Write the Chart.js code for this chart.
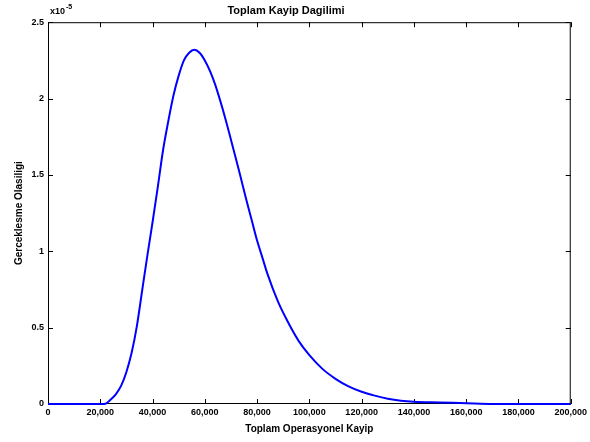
<!DOCTYPE html>
<html>
<head>
<meta charset="utf-8">
<script src="https://cdn.jsdelivr.net/npm/chart.js@4/dist/chart.umd.min.js"></script>
<style>
  html, body { margin: 0; padding: 0; background: #fff; }
  #wrap { width: 590px; height: 442px; }
</style>
</head>
<body>
<div id="wrap"><canvas id="loss-chart" width="590" height="442"></canvas></div>
<script>
// Toplam operasyonel kayip (x) ve gerceklesme olasiligi (y)
const lossValues = [0, 20000, 22000, 24000, 26000, 28000, 30000, 32000, 34000, 36000, 38000, 40000,
    42000, 44000, 46000, 48000, 50000, 52000, 54000, 56000, 58000, 60000, 62000, 64000, 66000,
    68000, 70000, 72000, 74000, 76000, 78000, 80000, 82000, 84000, 88000, 92000, 96000, 100000,
    105000, 110000, 115000, 120000, 125000, 130000, 135000, 140000, 150000, 160000, 170000, 200000];
const densityValues = [0, 0, 0.002e-5, 0.03e-5, 0.065e-5, 0.12e-5, 0.21e-5, 0.335e-5, 0.51e-5, 0.74e-5, 0.97e-5, 1.19e-5,
    1.42e-5, 1.66e-5, 1.85e-5, 2.02e-5, 2.15e-5, 2.25e-5, 2.30e-5, 2.32e-5, 2.30e-5, 2.25e-5, 2.18e-5, 2.09e-5, 1.98e-5,
    1.86e-5, 1.73e-5, 1.60e-5, 1.465e-5, 1.33e-5, 1.20e-5, 1.07e-5, 0.96e-5, 0.85e-5, 0.67e-5, 0.53e-5, 0.41e-5, 0.32e-5,
    0.23e-5, 0.165e-5, 0.115e-5, 0.08e-5, 0.055e-5, 0.035e-5, 0.022e-5, 0.015e-5, 0.01e-5, 0.005e-5, 0, 0];
const xTicks = [0, 20000, 40000, 60000, 80000, 100000, 120000, 140000, 160000, 180000, 200000];
const yTicks = [0, 0.5e-5, 1e-5, 1.5e-5, 2e-5, 2.5e-5];

const textFont = 'Arial, "Liberation Sans", sans-serif';

// box around the plot with inward ticks on all four sides, plus the x10^-5 note
// drawn under the curve so the blue line sits on top of the bottom axis
const matlabAxes = {
    id: 'matlabAxes',
    beforeDatasetsDraw(chart) {
        const { ctx, chartArea: a, scales } = chart;
        ctx.save();
        ctx.strokeStyle = '#000';
        ctx.lineWidth = 1;
        ctx.strokeRect(a.left + 0.5, a.top + 0.5, a.right - a.left - 1, a.bottom - a.top - 1);
        const len = 5;
        ctx.beginPath();
        scales.x.ticks.forEach(t => {
            const px = Math.round(scales.x.getPixelForValue(t.value)) + 0.5;
            ctx.moveTo(px, a.bottom); ctx.lineTo(px, a.bottom - len);
            ctx.moveTo(px, a.top); ctx.lineTo(px, a.top + len);
        });
        scales.y.ticks.forEach(t => {
            const py = Math.round(scales.y.getPixelForValue(t.value)) + 0.5;
            ctx.moveTo(a.left, py); ctx.lineTo(a.left + len, py);
            ctx.moveTo(a.right, py); ctx.lineTo(a.right - len, py);
        });
        ctx.stroke();

        ctx.fillStyle = '#000';
        ctx.textBaseline = 'alphabetic';
        ctx.textAlign = 'left';
        ctx.font = 'bold 9px ' + textFont;
        ctx.fillText('x10', a.left + 2, a.top - 8);
        ctx.font = 'bold 7px ' + textFont;
        ctx.fillText('-5', a.left + 18, a.top - 13);
        ctx.restore();
    }
};

const ctx = document.getElementById('loss-chart').getContext('2d');
new Chart(ctx, {
    type: 'line',
    data: {
        datasets: [{
            label: 'Toplam Kayip',
            data: lossValues.map((x, i) => ({ x: x, y: densityValues[i] })),
            borderColor: '#0000FF',
            borderWidth: 2,
            pointRadius: 0,
            cubicInterpolationMode: 'monotone',
            fill: false,
            clip: 2,
        }],
    },
    options: {
        responsive: false,
        animation: false,
        devicePixelRatio: 1,
        layout: { padding: { left: 0, right: 18, top: 0, bottom: 0 } },
        plugins: {
            legend: { display: false },
            tooltip: { enabled: false },
            title: {
                display: true,
                text: 'Toplam Kayip Dagilimi',
                color: '#000',
                font: { family: textFont, size: 11, weight: 'bold' },
                padding: { top: 4, bottom: 5 },
            },
        },
        scales: {
            x: {
                type: 'linear',
                min: 0,
                max: 200000,
                afterBuildTicks: scale => { scale.ticks = xTicks.map(v => ({ value: v })); },
                afterFit: scale => { scale.height = 38; },
                grid: { display: false, drawTicks: false },
                border: { display: false },
                ticks: {
                    color: '#000',
                    padding: 3,
                    maxRotation: 0,
                    autoSkip: false,
                    font: { family: textFont, size: 9, weight: 'bold' },
                    callback: v => v.toLocaleString('en-US'),
                },
                title: {
                    display: true,
                    text: 'Toplam Operasyonel Kayip',
                    color: '#000',
                    font: { family: textFont, size: 10, weight: 'bold' },
                    padding: { top: 0, bottom: 7 },
                },
            },
            y: {
                min: 0,
                max: 2.5e-5,
                afterBuildTicks: scale => { scale.ticks = yTicks.map(v => ({ value: v })); },
                afterFit: scale => { scale.width = 48; },
                grid: { display: false, drawTicks: false },
                border: { display: false },
                ticks: {
                    color: '#000',
                    padding: 4,
                    autoSkip: false,
                    font: { family: textFont, size: 9, weight: 'bold' },
                    callback: v => String(Math.round(v / 1e-5 * 10) / 10),
                },
                title: {
                    display: true,
                    text: 'Gerceklesme Olasiligi',
                    color: '#000',
                    font: { family: textFont, size: 10, weight: 'bold' },
                    padding: { top: 13, bottom: 0 },
                },
            },
        },
    },
    plugins: [matlabAxes],
});
</script>
</body>
</html>
